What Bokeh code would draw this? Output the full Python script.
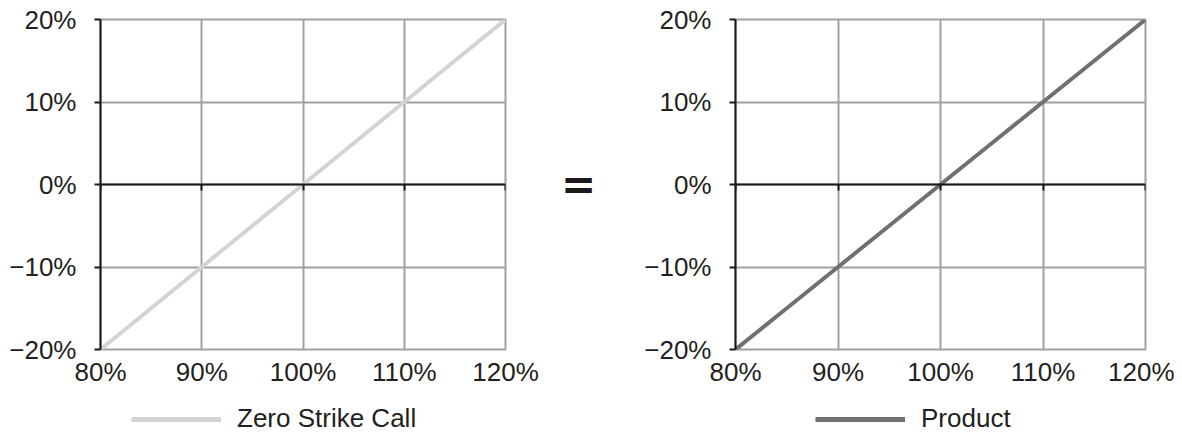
from bokeh.plotting import figure
from bokeh.layouts import row, column
from bokeh.models import LinearAxis, FixedTicker, Legend, LegendItem, Range1d, Label
from bokeh.embed import file_html
from bokeh.resources import INLINE

# ---- data ----
underlying = [80, 82, 84, 86, 88, 90, 92, 94, 96, 98, 100, 102, 104, 106, 108, 110, 112, 114, 116, 118, 120]
zero_strike_call = [-20, -18, -16, -14, -12, -10, -8, -6, -4, -2, 0, 2, 4, 6, 8, 10, 12, 14, 16, 18, 20]
product = [-20, -18, -16, -14, -12, -10, -8, -6, -4, -2, 0, 2, 4, 6, 8, 10, 12, 14, 16, 18, 20]
x_ticks = [80, 90, 100, 110, 120]
x_labels = ["80%", "90%", "100%", "110%", "120%"]
y_ticks = [-20, -10, 0, 10, 20]
y_labels = ["\u221220%", "\u221210%", "0%", "10%", "20%"]
series_names = ["Zero Strike Call", "Product"]
series_colors = ["#d3d3d3", "#707070"]

FONT = "Liberation Sans"
FS = "26px"
TXT = "#231f20"
GRID = "#a0a0a0"
AX = "#1a1a1a"
MAIN_H = 390
LEG_H = 44
TOP = 19
BOT = MAIN_H - 349


def make_panel(yvals, color, width, bl, br):
    p = figure(width=width, height=MAIN_H, output_backend="svg", toolbar_location=None,
               x_range=Range1d(80, 120), y_range=Range1d(-20, 20),
               min_border_left=bl, min_border_right=br, min_border_top=TOP, min_border_bottom=BOT,
               x_axis_location=None, y_axis_location=None)
    p.outline_line_color = GRID
    p.outline_line_width = 2
    p.background_fill_color = "white"
    p.border_fill_color = "white"

    ya = LinearAxis(ticker=FixedTicker(ticks=y_ticks),
                    major_label_overrides={t: l for t, l in zip(y_ticks, y_labels)})
    ya.axis_line_color = AX
    ya.axis_line_width = 2
    ya.major_tick_line_color = AX
    ya.major_tick_line_width = 2
    ya.major_tick_out = 6
    ya.major_tick_in = 0
    ya.minor_tick_line_color = None
    ya.major_label_standoff = 18
    ya.major_label_text_font = FONT
    ya.major_label_text_font_size = FS
    ya.major_label_text_color = TXT
    p.add_layout(ya, "left")

    xa = LinearAxis(ticker=FixedTicker(ticks=x_ticks),
                    major_label_overrides={t: l for t, l in zip(x_ticks, x_labels)})
    xa.axis_line_color = None
    xa.major_tick_line_color = None
    xa.minor_tick_line_color = None
    xa.major_label_standoff = 1
    xa.major_label_text_font = FONT
    xa.major_label_text_font_size = FS
    xa.major_label_text_color = TXT
    p.add_layout(xa, "below")

    za = LinearAxis(ticker=FixedTicker(ticks=x_ticks), fixed_location=0,
                    major_label_overrides={t: "" for t in x_ticks})
    za.axis_line_color = AX
    za.axis_line_width = 2
    za.major_tick_line_color = AX
    za.major_tick_line_width = 2
    za.major_tick_in = 6
    za.major_tick_out = 0
    za.minor_tick_line_color = None
    za.major_label_standoff = 0
    p.add_layout(za, "above")

    p.xgrid.ticker = FixedTicker(ticks=x_ticks)
    p.ygrid.ticker = FixedTicker(ticks=y_ticks)
    for g in (p.xgrid, p.ygrid):
        g.grid_line_color = GRID
        g.grid_line_width = 2

    p.line(underlying, yvals, line_color=color, line_width=4)
    return p


def make_legend_fig(yvals, name, color, width, lx):
    lf = figure(width=width, height=LEG_H, output_backend="svg", toolbar_location=None,
                x_range=Range1d(0, 1), y_range=Range1d(0, 1),
                min_border=0, x_axis_location=None, y_axis_location=None)
    lf.outline_line_color = None
    lf.xgrid.visible = False
    lf.ygrid.visible = False
    # the series itself, outside this strip's ranges, only to key the legend
    r = lf.line(underlying, yvals, line_color=color, line_width=5)
    leg = Legend(items=[LegendItem(label=name, renderers=[r])],
                 location=(lx, 0), orientation="horizontal",
                 border_line_color=None, background_fill_alpha=0,
                 glyph_width=90, glyph_height=24, label_height=24,
                 padding=0, margin=0, label_standoff=16,
                 label_text_font=FONT, label_text_font_size=FS, label_text_color=TXT)
    lf.add_layout(leg, "center")
    return lf


def make_equals_fig(width):
    ef = figure(width=width, height=MAIN_H, output_backend="svg", toolbar_location=None,
                x_range=Range1d(0, 1), y_range=Range1d(-20, 20),
                min_border_left=0, min_border_right=0, min_border_top=TOP, min_border_bottom=BOT,
                x_axis_location=None, y_axis_location=None)
    ef.outline_line_color = None
    ef.xgrid.visible = False
    ef.ygrid.visible = False
    ef.add_layout(Label(x=0.5, y=0, text="=", text_font="DejaVu Sans",
                        text_font_style="bold", text_font_size="42px", text_color=AX,
                        text_align="center", text_baseline="middle"))
    return ef


W1, WE = 548, 60
W2 = 1174 - W1 - WE
p1 = make_panel(zero_strike_call, series_colors[0], W1, 100, W1 - 505)
eqf = make_equals_fig(WE)
p2 = make_panel(product, series_colors[1], W2, 735 - W1 - WE, 1174 - 1145)

l1 = make_legend_fig(zero_strike_call, series_names[0], series_colors[0], W1 + WE, 131)
l2 = make_legend_fig(product, series_names[1], series_colors[1], W2, 815 - W1 - WE)

layout = column(row(p1, eqf, p2, spacing=0), row(l1, l2, spacing=0), spacing=0)
open("out.html", "w").write(file_html(layout, INLINE))
